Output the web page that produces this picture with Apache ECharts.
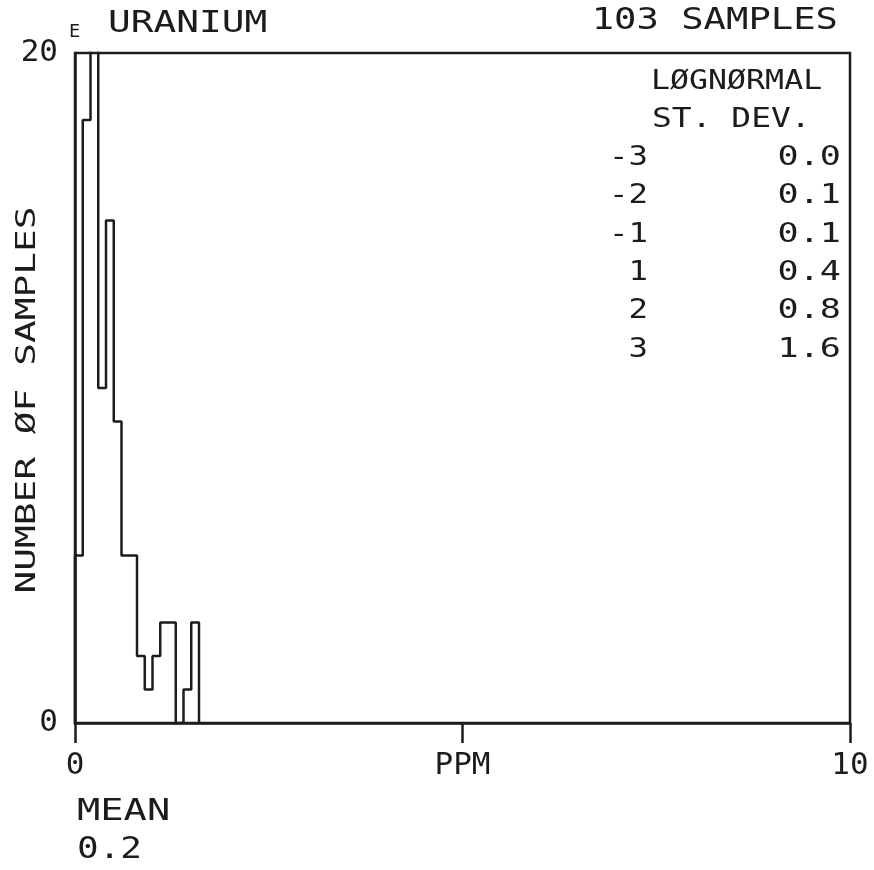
<!DOCTYPE html>
<html>
<head>
<meta charset="utf-8">
<script src="https://cdn.jsdelivr.net/npm/echarts@6/dist/echarts.min.js"></script>
<style>
html,body{margin:0;padding:0;background:#fff;}
#chart{width:874px;height:870px;}
</style>
</head>
<body>
<div id="chart"></div>
<script>
// ---- data ----
const binEdges = [0, 0.1, 0.2, 0.3, 0.4, 0.5, 0.6, 0.7, 0.8, 0.9, 1.0, 1.1, 1.2, 1.3, 1.4, 1.5, 1.6];
const binCounts = [5, 18, 21, 10, 15, 9, 5, 5, 2, 1, 2, 3, 3, 0, 1, 3];
const xTickValues = [0, 5, 10];
const xTickLabels = ['0', 'PPM', '10'];
const yTickValues = [0, 20];
const yTickLabels = ['0', '20'];
const stdevLabels = ['-3', '-2', '-1', '1', '2', '3'];
const stdevValues = ['0.0', '0.1', '0.1', '0.4', '0.8', '1.6'];
const elementCode = 'E';
const elementName = 'URANIUM';
const sampleText = '103 SAMPLES';
const tableTitle1 = 'LØGNØRMAL';
const tableTitle2 = 'ST. DEV.';
const yTitle = 'NUMBER ØF SAMPLES';
const meanTitle = 'MEAN';
const meanValue = '0.2';

// ---- chart ----
const INK = '#1c1c1c';
const FONT = '"DejaVu Sans Mono", monospace';
const chart = echarts.init(document.getElementById('chart'), null, {renderer: 'canvas'});

const stepData = [[binEdges[0], 0]];
binCounts.forEach((c, i) => stepData.push([binEdges[i], c]));
stepData.push([binEdges[binEdges.length - 1], 0]);

function txt(text, x, y, size, align, scaleX, extra) {
  return Object.assign({
    type: 'text', x: x, y: y, scaleX: scaleX || 1, silent: true,
    style: {text: text, font: size + 'px ' + FONT, fill: INK, align: align || 'left', verticalAlign: 'middle'}
  }, extra || {});
}

const graphics = [
  txt(elementCode, 69, 33, 17, 'left', 1.1),
  txt(elementName, 108, 24, 30, 'left', 1.26),
  txt(sampleText, 838, 21, 30, 'right', 1.24),
  txt(tableTitle1, 651, 82, 27, 'left', 1.17),
  txt(tableTitle2, 652, 120, 27, 'left', 1.22),
  txt(yTitle, 28, 400, 27, 'center', 1.4, {rotation: Math.PI / 2}),
  txt(meanTitle, 77, 812, 30, 'left', 1.29),
  txt(meanValue, 77, 850, 30, 'left', 1.2)
];
stdevLabels.forEach((s, i) => {
  const y = 158 + i * 38.3;
  graphics.push(txt(s, 648, y, 27, 'right', 1.2));
  graphics.push(txt(stdevValues[i], 841, y, 27, 'right', 1.3));
});

const option = {
  animation: false,
  backgroundColor: '#ffffff',
  grid: {
    left: 75, right: 24, top: 53, bottom: 147,
    show: true, borderColor: INK, borderWidth: 2.5, backgroundColor: 'transparent'
  },
  xAxis: {
    type: 'value', min: 0, max: 10, interval: 5,
    splitLine: {show: false},
    axisLine: {show: true, onZero: false, lineStyle: {color: INK, width: 2.5}},
    axisTick: {show: true, length: 20, inside: false, lineStyle: {color: INK, width: 2.5}},
    axisLabel: {
      show: true, margin: 27, color: INK, fontFamily: FONT, fontSize: 31,
      showMinLabel: true, showMaxLabel: true,
      formatter: function (v) {
        const i = xTickValues.indexOf(v);
        return i >= 0 ? xTickLabels[i] : '';
      }
    }
  },
  yAxis: {
    type: 'value', min: 0, max: 20, interval: 20,
    splitLine: {show: false},
    axisLine: {show: true, lineStyle: {color: INK, width: 2.5}},
    axisTick: {show: false},
    axisLabel: {
      show: true, margin: 17, color: INK, fontFamily: FONT, fontSize: 31,
      formatter: function (v) {
        const i = yTickValues.indexOf(v);
        return i >= 0 ? yTickLabels[i] : '';
      }
    }
  },
  series: [{
    type: 'line',
    step: 'end',
    data: stepData,
    showSymbol: false,
    symbol: 'none',
    clip: true,
    lineStyle: {color: INK, width: 2.5},
    silent: true
  }],
  graphic: graphics
};
chart.setOption(option);
</script>
</body>
</html>
